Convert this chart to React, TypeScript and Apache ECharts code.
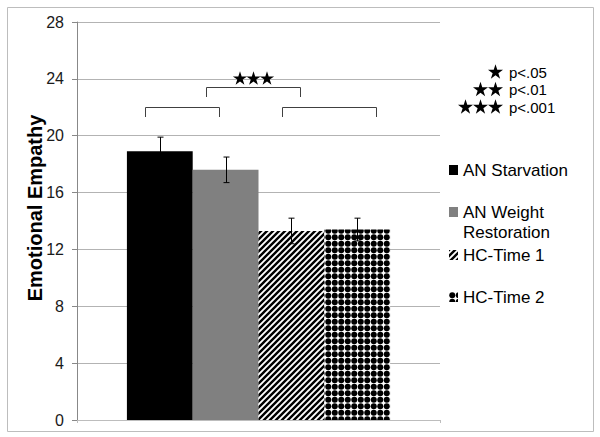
import React, { useEffect, useRef } from 'react';
import * as echarts from 'echarts';

const categories = [''];
const seriesNames = ['AN Starvation', 'AN Weight Restoration', 'HC-Time 1', 'HC-Time 2'];
const means = [18.9, 17.6, 13.3, 13.4];
const errors = [1.0, 0.9, 0.9, 0.8];
const yMin = 0;
const yMax = 28;
const yInterval = 4;
const axisTitle = 'Emotional Empathy';
const starCounts = [1, 2, 3];
const pLabels = ['p<.05', 'p<.01', 'p<.001'];
const comparisonStarCount = 3;

const BAR_CAT_GAP = 0.275;

function stripePattern() {
  const c = document.createElement('canvas');
  c.width = 6;
  c.height = 6;
  const ctx = c.getContext('2d')!;
  ctx.fillStyle = '#fff';
  ctx.fillRect(0, 0, 6, 6);
  ctx.strokeStyle = '#000';
  ctx.lineWidth = 2.4;
  ctx.beginPath();
  ctx.moveTo(-1, 1); ctx.lineTo(1, -1);
  ctx.moveTo(0, 6); ctx.lineTo(6, 0);
  ctx.moveTo(5, 7); ctx.lineTo(7, 5);
  ctx.stroke();
  return c;
}

function dotPattern() {
  const s = 13;
  const c = document.createElement('canvas');
  c.width = s;
  c.height = s;
  const ctx = c.getContext('2d')!;
  ctx.fillStyle = '#fff';
  ctx.fillRect(0, 0, s, s);
  ctx.fillStyle = '#000';
  const pts = [3.25, 9.75];
  pts.forEach((px) => pts.forEach((py) => {
    ctx.beginPath();
    ctx.arc(px, py, 3.0, 0, Math.PI * 2);
    ctx.fill();
  }));
  return c;
}

// five-pointed star; (cx, cy) is the centre of its bounding box
function starPoints(cx: number, cy: number, R: number) {
  const r = R * 0.382;
  const oy = cy + (R - R * Math.cos(Math.PI / 5)) / 2;
  const pts: number[][] = [];
  for (let k = 0; k < 10; k++) {
    const rad = k % 2 === 0 ? R : r;
    const a = -Math.PI / 2 + (k * Math.PI) / 5;
    pts.push([cx + rad * Math.cos(a), oy + rad * Math.sin(a)]);
  }
  return pts;
}

function starRow(rightCx: number, cy: number, R: number, step: number, n: number) {
  const out: any[] = [];
  for (let k = 0; k < n; k++) {
    out.push({
      type: 'polygon',
      z: 10,
      shape: { points: starPoints(rightCx - k * step, cy, R) },
      style: { fill: '#000', stroke: 'none' },
    });
  }
  return out;
}

export default function App() {
  const ref = useRef<HTMLDivElement>(null);
  useEffect(() => {
    if (!ref.current) return;
    const chart = echarts.init(ref.current, undefined, { renderer: 'svg' });
    const fills: any[] = [
      '#000000',
      '#808080',
      { image: stripePattern(), repeat: 'repeat' },
      { image: dotPattern(), repeat: 'repeat' },
    ];
    const font = '"Liberation Sans", Arial, sans-serif';
    const legendTops = [160, 182, 245, 287];
    const legendLabels = ['AN Starvation', ' \nAN Weight\nRestoration', 'HC-Time 1', 'HC-Time 2'];

    const barSeries = seriesNames.map((name, i) => ({
      name,
      type: 'bar',
      data: [means[i]],
      barGap: '0%',
      barCategoryGap: (BAR_CAT_GAP * 100) + '%',
      itemStyle: { color: fills[i] },
      z: 2,
    }));

    const errData = means.map((m, i) => [0, m - errors[i], m + errors[i], i]);
    const bracketStyle = { fill: 'none', stroke: '#404040', lineWidth: 1 };

    chart.setOption({
      animation: false,
      grid: { left: 77, right: 160, top: 22, bottom: 17 },
      xAxis: {
        type: 'category',
        data: categories,
        axisLine: { lineStyle: { color: '#bdbdbd' } },
        axisTick: { show: true, length: 3, lineStyle: { color: '#bdbdbd' } },
        axisLabel: { show: false },
      },
      yAxis: {
        type: 'value',
        min: yMin,
        max: yMax,
        interval: yInterval,
        axisLine: { show: true, lineStyle: { color: '#888' } },
        axisTick: { show: true, length: 5, lineStyle: { color: '#888' } },
        axisLabel: { fontSize: 16, color: '#1a1a1a', fontFamily: font, margin: 13 },
        splitLine: { lineStyle: { color: '#b3b3b3' } },
      },
      legend: seriesNames.map((n, i) => ({
        data: [n],
        left: 449,
        top: legendTops[i],
        orient: 'vertical',
        padding: 0,
        itemWidth: 9,
        itemHeight: 10,
        icon: 'rect',
        selectedMode: false,
        formatter: () => legendLabels[i],
        textStyle: {
          fontSize: 17,
          color: '#000',
          fontFamily: font,
          lineHeight: 20,
        },
      })),
      series: [
        ...barSeries,
        {
          type: 'custom',
          name: 'error',
          data: errData,
          z: 5,
          renderItem: (params: any, api: any) => {
            const idx = api.value(3);
            const lo = api.coord([api.value(0), api.value(1)]);
            const hi = api.coord([api.value(0), api.value(2)]);
            const band = api.size([1, 0])[0];
            const bw = (band * (1 - BAR_CAT_GAP)) / seriesNames.length;
            const x = Math.round(lo[0] - (seriesNames.length / 2) * bw + (idx + 0.5) * bw) + 0.5;
            const cap = 3;
            const st = { stroke: '#000', lineWidth: 1 };
            return {
              type: 'group',
              children: [
                { type: 'line', shape: { x1: x, y1: hi[1], x2: x, y2: lo[1] }, style: st },
                { type: 'line', shape: { x1: x - cap, y1: hi[1], x2: x + cap, y2: hi[1] }, style: st },
                { type: 'line', shape: { x1: x - cap, y1: lo[1], x2: x + cap, y2: lo[1] }, style: st },
              ],
            };
          },
        },
      ],
      graphic: [
        {
          type: 'rect',
          shape: { x: 7.5, y: 7.5, width: 586, height: 424 },
          style: { fill: 'none', stroke: '#bdbdbd', lineWidth: 1 },
          z: -1,
        },
        {
          type: 'text',
          x: 35,
          y: 208,
          rotation: Math.PI / 2,
          style: {
            text: axisTitle,
            fontSize: 20,
            fontWeight: 'bold',
            fontFamily: font,
            fill: '#000',
            align: 'center',
            verticalAlign: 'middle',
          },
        },
        {
          type: 'polyline',
          shape: { points: [[145.5, 117], [145.5, 107.5], [219.5, 107.5], [219.5, 117]] },
          style: bracketStyle,
        },
        {
          type: 'polyline',
          shape: { points: [[206.5, 97], [206.5, 87.5], [300.5, 87.5], [300.5, 97]] },
          style: bracketStyle,
        },
        {
          type: 'polyline',
          shape: { points: [[282.5, 117], [282.5, 107.5], [376.5, 117 - 9.5], [376.5, 117]] },
          style: bracketStyle,
        },
        ...starRow(267, 78, 7.5, 13.5, comparisonStarCount),
        ...starCounts.flatMap((n, i) => starRow(495.5, 71.5 + i * 17.5, 7.9, 15, n)),
        ...pLabels.map((p, i) => ({
          type: 'text',
          x: 509,
          y: 72 + i * 17.5,
          style: {
            text: p,
            fontSize: 15,
            fontFamily: font,
            fill: '#000',
            align: 'left',
            verticalAlign: 'middle',
          },
        })),
      ],
    });
    return () => chart.dispose();
  }, []);
  return (
    <div
      ref={ref}
      style={{ position: 'fixed', left: 0, top: 0, width: 600, height: 437, background: '#fff' }}
    />
  );
}
